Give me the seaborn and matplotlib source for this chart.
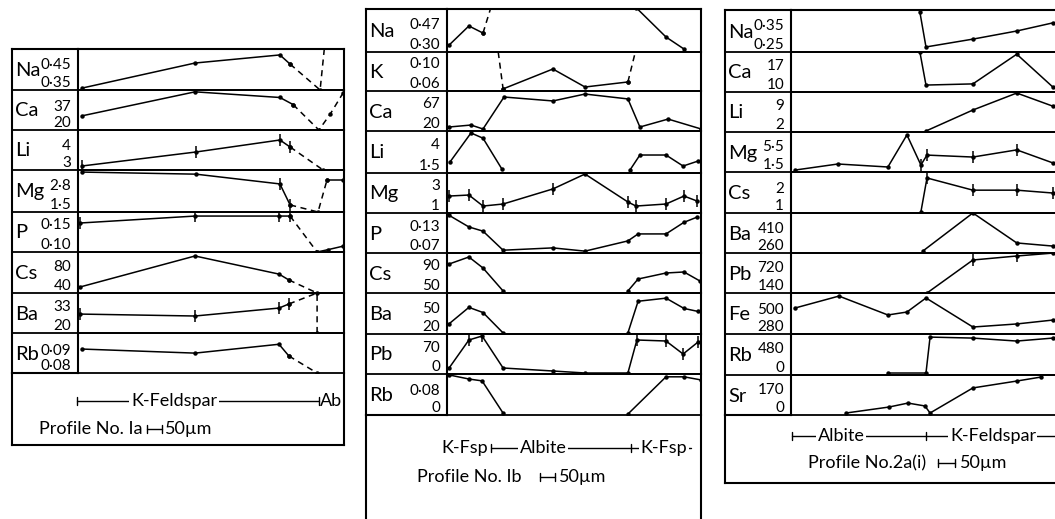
import matplotlib
matplotlib.use("Agg")
import matplotlib.pyplot as plt
import seaborn as sns

sns.set_style("white")
plt.rcParams["font.family"] = ["Lato", "DejaVu Sans"]
plt.rcParams["font.weight"] = "normal"

# ======================= DATA =======================
# x = distance along profile (um), y = concentration (per-strip scale)

# ---- Profile No. Ia ----
p1_elements = ["Na", "Ca", "Li", "Mg", "P", "Cs", "Ba", "Rb"]
p1_lo = [0.35, 20, 3, 1.5, 0.10, 40, 20, 0.08]
p1_hi = [0.45, 37, 4, 2.8, 0.15, 80, 33, 0.09]
p1_lo_lbl = ["0·35", "20", "3", "1·5", "0·10", "40", "20", "0·08"]
p1_hi_lbl = ["0·45", "37", "4", "2·8", "0·15", "80", "33", "0·09"]
p1_ytop = [0.502, 48.3, 4.6, 3.52, 0.169, 98.6, 38.6, 0.0967]

p1_na_x = [13, 390, 673, 707, 807, 830]
p1_na_y = [0.357, 0.45, 0.48, 0.446, 0.35, 0.60]
p1_ca_x = [13, 390, 673, 717, 803, 840, 883]
p1_ca_y = [30, 47, 43, 38, 20, 31, 46]
p1_li_x = [13, 393, 673, 707, 817]
p1_li_y = [3.16, 3.72, 4.2, 3.92, 3.0]
p1_mg_x = [13, 393, 673, 707, 800, 830, 883]
p1_mg_y = [3.42, 3.32, 2.85, 1.84, 1.5, 3.04, 3.04]
p1_p_x = [7, 390, 670, 707, 797, 833, 883]
p1_p_y = [0.15, 0.162, 0.162, 0.162, 0.10, 0.104, 0.11]
p1_cs_x = [7, 390, 670, 703, 797]
p1_cs_y = [48.6, 92.9, 67, 58.6, 40]
p1_ba_x = [7, 390, 670, 703, 797, 797]
p1_ba_y = [28.8, 27.9, 31.6, 33.5, 38.6, 20]
p1_rb_x = [13, 390, 670, 703, 797]
p1_rb_y = [0.09, 0.0883, 0.092, 0.0871, 0.08]

# ---- Profile No. Ib ----
p2_elements = ["Na", "K", "Ca", "Li", "Mg", "P", "Cs", "Ba", "Pb", "Rb"]
p2_lo = [0.30, 0.06, 20, 1.5, 1, 0.07, 50, 20, 0, 0]
p2_hi = [0.47, 0.10, 67, 4, 3, 0.13, 90, 50, 70, 0.08]
p2_lo_lbl = ["0·30", "0·06", "20", "1·5", "1", "0·07", "50", "20", "0", "0"]
p2_hi_lbl = ["0·47", "0·10", "67", "4", "3", "0·13", "90", "50", "70", "0·08"]
p2_ytop = [0.561, 0.1157, 87.1, 5.12, 3.76, 0.156, 105.2, 66.2, 100, 0.131]

p2_na_x = [7, 73, 120, 187, 630, 730, 790]
p2_na_y = [0.342, 0.458, 0.415, 0.81, 0.57, 0.391, 0.318]
p2_k_x = [120, 187, 353, 460, 603, 636]
p2_k_y = [0.28, 0.063, 0.0914, 0.0657, 0.0729, 0.13]
p2_ca_x = [7, 80, 120, 190, 353, 460, 603, 643, 737, 847]
p2_ca_y = [26.7, 30, 23.4, 77, 70.4, 82, 73.8, 26.7, 40, 23.4]
p2_li_x = [10, 80, 120, 183, 610, 643, 730, 787, 837]
p2_li_y = [2.45, 4.95, 4.5, 1.84, 1.76, 3.05, 3.05, 2.1, 2.53]
p2_mg_x = [7, 73, 120, 187, 353, 460, 603, 630, 730, 790, 833]
p2_mg_y = [2.17, 2.24, 1.48, 1.62, 2.66, 3.69, 1.76, 1.48, 1.62, 2.17, 1.83]
p2_p_x = [7, 73, 120, 187, 353, 460, 603, 637, 730, 790, 833]
p2_p_y = [0.151, 0.126, 0.117, 0.076, 0.081, 0.074, 0.096, 0.111, 0.111, 0.136, 0.147]
p2_cs_x = [7, 73, 120, 187, 603, 637, 730, 790, 843]
p2_cs_y = [90, 99.7, 84.5, 52.8, 52.8, 69.3, 77.6, 79, 66.6]
p2_ba_x = [7, 73, 120, 187, 603, 637, 730, 790, 837]
p2_ba_y = [31.5, 50, 44.2, 21.2, 21.2, 56.9, 60.4, 48.8, 45.4]
p2_pb_x = [7, 73, 117, 187, 353, 460, 603, 633, 730, 787, 837]
p2_pb_y = [15, 85, 95, 15, 7.5, 2.5, 2.5, 85, 82.5, 50, 80]
p2_rb_x = [7, 73, 117, 187, 603, 730, 790, 847]
p2_rb_y = [0.128, 0.115, 0.109, 0.006, 0.003, 0.122, 0.122, 0.112]

# ---- Profile No. 2a(i) ----
p3_elements = ["Na", "Ca", "Li", "Mg", "Cs", "Ba", "Pb", "Fe", "Rb", "Sr"]
p3_lo = [0.25, 10, 2, 1.5, 1, 260, 140, 280, 0, 0]
p3_hi = [0.35, 17, 9, 5.5, 2, 410, 720, 500, 480, 170]
p3_lo_lbl = ["0·25", "10", "2", "1·5", "1", "260", "140", "280", "0", "0"]
p3_hi_lbl = ["0·35", "17", "9", "5·5", "2", "410", "720", "500", "480", "170"]
p3_ytop = [0.40, 20.37, 12.37, 7.65, 2.58, 490.8, 1032, 627, 703, 261.5]

p3_na_x = [379, 397, 535, 664, 770]
p3_na_y = [0.393, 0.268, 0.296, 0.325, 0.354]
p3_ca_x = [379, 397, 535, 664, 770]
p3_ca_y = [20.4, 11.8, 12.1, 19.8, 11.3]
p3_li_x = [397, 535, 664, 770]
p3_li_y = [2.26, 7.7, 12.1, 8.7]
p3_mg_x = [12, 138, 285, 341, 382, 400, 535, 664, 770]
p3_mg_y = [1.8, 2.73, 2.27, 7.2, 2.58, 4.1, 3.8, 4.9, 2.9]
p3_cs_x = [382, 400, 535, 664, 770]
p3_cs_y = [1.04, 2.35, 1.88, 1.88, 1.77]
p3_ba_x = [388, 535, 664, 770]
p3_ba_y = [271.5, 491, 318, 300]
p3_pb_x = [400, 535, 664, 770]
p3_pb_y = [140, 876, 965, 1030]
p3_fe_x = [12, 141, 285, 341, 397, 535, 664, 770]
p3_fe_y = [500, 601, 441, 466, 585, 339, 365, 398]
p3_rb_x = [285, 397, 409, 535, 664, 770]
p3_rb_y = [34, 34, 650, 633, 582, 633]
p3_sr_x = [162, 288, 344, 394, 409, 535, 664, 735]
p3_sr_y = [13, 52, 78, 59, 13, 177, 222, 248]

# ======================= STYLE SPECS =======================
DASH = (0, (4, 3))
p1_segments = {
    "Na": [(0, 3, "-"), (3, 5, DASH)],
    "Ca": [(0, 3, "-"), (3, 6, DASH)],
    "Li": [(0, 3, "-"), (3, 4, DASH)],
    "Mg": [(0, 3, "-"), (3, 5, DASH), (5, 6, "-")],
    "P": [(0, 3, "-"), (3, 4, DASH), (4, 6, "-")],
    "Cs": [(0, 3, "-"), (3, 4, DASH)],
    "Ba": [(0, 3, "-"), (3, 5, DASH)],
    "Rb": [(0, 3, "-"), (3, 4, DASH)],
}
p1_errbars = {"Li": [0, 1, 2, 3], "Mg": [2, 3], "P": [0, 1, 2, 3], "Ba": [0, 1, 2, 3]}
p2_segments = {
    "Na": [(0, 2, "-"), (2, 3, DASH), (4, 6, "-")],
    "K": [(0, 1, DASH), (1, 4, "-"), (4, 5, DASH)],
    "Li": [(0, 3, "-"), (4, 8, "-")],
    "Cs": [(0, 3, "-"), (4, 8, "-")],
    "Ba": [(0, 3, "-"), (4, 8, "-")],
    "Rb": [(0, 3, "-"), (4, 7, "-")],
}
p2_errbars = {"Mg": [0, 1, 2, 3, 4, 6, 7, 8, 9, 10], "Pb": [1, 2, 7, 8, 9, 10]}
p3_segments = {}
p3_errbars = {"Mg": [4, 5, 6, 7], "Cs": [1, 2, 3, 4], "Pb": [1, 2]}

# ======================= LAYOUT (pixels) =======================
W, H = 1055, 519
PANELS = [
    dict(elements=p1_elements, lo=p1_lo, hi=p1_hi, lo_lbl=p1_lo_lbl, hi_lbl=p1_hi_lbl,
         ytop=p1_ytop,
         series=[(p1_na_x, p1_na_y), (p1_ca_x, p1_ca_y), (p1_li_x, p1_li_y), (p1_mg_x, p1_mg_y),
                 (p1_p_x, p1_p_y), (p1_cs_x, p1_cs_y), (p1_ba_x, p1_ba_y), (p1_rb_x, p1_rb_y)],
         segments=p1_segments, errbars=p1_errbars,
         box_left=12, label_right=78, right=344,
         bounds=[49, 90, 130, 170, 212, 252, 293, 333, 373], bottom=445, scale=10 / 3),
    dict(elements=p2_elements, lo=p2_lo, hi=p2_hi, lo_lbl=p2_lo_lbl, hi_lbl=p2_hi_lbl,
         ytop=p2_ytop,
         series=[(p2_na_x, p2_na_y), (p2_k_x, p2_k_y), (p2_ca_x, p2_ca_y), (p2_li_x, p2_li_y),
                 (p2_mg_x, p2_mg_y), (p2_p_x, p2_p_y), (p2_cs_x, p2_cs_y), (p2_ba_x, p2_ba_y),
                 (p2_pb_x, p2_pb_y), (p2_rb_x, p2_rb_y)],
         segments=p2_segments, errbars=p2_errbars,
         box_left=366, label_right=447, right=701,
         bounds=[9, 52, 91, 131, 173, 213, 253, 293, 334, 374, 415], bottom=535, scale=10 / 3),
    dict(elements=p3_elements, lo=p3_lo, hi=p3_hi, lo_lbl=p3_lo_lbl, hi_lbl=p3_hi_lbl,
         ytop=p3_ytop,
         series=[(p3_na_x, p3_na_y), (p3_ca_x, p3_ca_y), (p3_li_x, p3_li_y), (p3_mg_x, p3_mg_y),
                 (p3_cs_x, p3_cs_y), (p3_ba_x, p3_ba_y), (p3_pb_x, p3_pb_y), (p3_fe_x, p3_fe_y),
                 (p3_rb_x, p3_rb_y), (p3_sr_x, p3_sr_y)],
         segments=p3_segments, errbars=p3_errbars,
         box_left=725, label_right=791, right=1062,
         bounds=[10, 52, 92, 132, 172, 213, 253, 293, 334, 375, 415], bottom=483, scale=50 / 17),
]

INK = "#000000"
LW_BOX = 1.5
LW_LINE = 1.1


def rect(x0, y0, x1, y1):
    return [x0 / W, 1 - y1 / H, (x1 - x0) / W, (y1 - y0) / H]


def style_frame(ax, lw=LW_BOX):
    ax.set_facecolor("none")
    for s in ax.spines.values():
        s.set_color(INK)
        s.set_linewidth(lw)
    ax.set_xticks([])
    ax.set_yticks([])


fig = plt.figure(figsize=(W / 100, H / 100), dpi=100)
fig.patch.set_facecolor("white")

for P in PANELS:
    b = P["bounds"]
    s = P["scale"]
    xmax = (P["right"] - P["label_right"]) * s
    # --- label column ---
    lab = fig.add_axes(rect(P["box_left"], b[0], P["label_right"], b[-1]))
    style_frame(lab)
    lab.set_xlim(0, P["label_right"] - P["box_left"])
    lab.set_ylim(b[-1], b[0])
    for yb in b[1:-1]:
        lab.axhline(yb, color=INK, lw=1.3)
    for i, el in enumerate(P["elements"]):
        lab.text(3, (b[i] + b[i + 1]) / 2 + 1, el, fontsize=14.5, ha="left", va="center",
                 color=INK)

    # --- strips ---
    for i, el in enumerate(P["elements"]):
        ax = fig.add_axes(rect(P["label_right"], b[i], P["right"], b[i + 1]))
        xs, ys = P["series"][i]
        segs = P["segments"].get(el, [(0, len(xs) - 1, "-")])
        for i0, i1, ls in segs:
            sns.lineplot(x=xs[i0:i1 + 1], y=ys[i0:i1 + 1], ax=ax, sort=False,
                         estimator=None, color=INK, linewidth=LW_LINE, linestyle=ls,
                         marker="o", markersize=3.2, markeredgewidth=0)
        errs = P["errbars"].get(el, [])
        if errs:
            sns.lineplot(x=[xs[k] for k in errs], y=[ys[k] for k in errs], ax=ax,
                         sort=False, estimator=None, color=INK, linestyle="none",
                         marker="|", markersize=9, markeredgewidth=1.1,
                         markeredgecolor=INK)
        ax.set_xlim(0, xmax)
        ax.set_ylim(P["lo"][i], P["ytop"][i])
        ax.set(xlabel="", ylabel="")
        ax.set_facecolor("none")
        for sp in ax.spines.values():
            sp.set_color(INK)
            sp.set_linewidth(1.3)
        ax.spines["top"].set_linewidth(LW_BOX if i == 0 else 1.3)
        ax.spines["right"].set_linewidth(LW_BOX)
        ax.set_xticks([])
        ax.set_yticks([P["lo"][i], P["hi"][i]], labels=[P["lo_lbl"][i], P["hi_lbl"][i]])
        ax.tick_params(axis="y", direction="out", length=4, width=1, pad=1.0,
                       labelsize=11, colors=INK)
        ticks = ax.yaxis.get_major_ticks()
        ticks[0].tick1line.set_visible(False)
        ticks[0].label1.set_verticalalignment("bottom")

    # --- footer ---
    foot = fig.add_axes(rect(P["box_left"], b[-1], P["right"], P["bottom"]))
    style_frame(foot)
    foot.spines["top"].set_visible(False)
    foot.set_xlim(-(P["label_right"] - P["box_left"]) * s, xmax)
    foot.set_ylim(P["bottom"], b[-1])
    P["foot"] = foot

FS = 13


def range_bar(ax, y, x0, x1, ticks):
    ax.plot([x0, x1], [y, y], color=INK, lw=1.0)
    for t in ticks:
        ax.plot([t, t], [y - 4, y + 4], color=INK, lw=1.0)


def label_on(ax, x, y, txt, ha="center"):
    ax.text(x, y, txt, fontsize=FS, ha=ha, va="center", color=INK,
            bbox=dict(fc="white", ec="none", pad=1.0))


# Panel Ia footer
f = PANELS[0]["foot"]
range_bar(f, 401, -3, 803, [-3, 803])
label_on(f, 320, 401, "K-Feldspar")
f.text(806, 401, "Ab", fontsize=FS, ha="left", va="center", color=INK)
f.text(215, 429, "Profile No. Ia", fontsize=FS, ha="right", va="center", color=INK)
range_bar(f, 429, 230, 280, [230, 280])
f.text(290, 429, "50µm", fontsize=FS, ha="left", va="center", color=INK)

# Panel Ib footer
f = PANELS[1]["foot"]
range_bar(f, 448, 147, 813, [147, 613])
label_on(f, 320, 448, "Albite")
label_on(f, 723, 448, "K-Fsp")
f.text(137, 448, "K-Fsp", fontsize=FS, ha="right", va="center", color=INK)
f.text(247, 477, "Profile No. Ib", fontsize=FS, ha="right", va="center", color=INK)
range_bar(f, 477, 310, 360, [310, 360])
f.text(372, 477, "50µm", fontsize=FS, ha="left", va="center", color=INK)

# Panel 2a(i) footer
f = PANELS[2]["foot"]
range_bar(f, 436, 3, 800, [3, 397])
label_on(f, 147, 436, "Albite")
label_on(f, 594, 436, "K-Feldspar")
f.text(397, 463, "Profile No.2a(i)", fontsize=FS, ha="right", va="center", color=INK)
range_bar(f, 463, 432, 482, [432, 482])
f.text(497, 463, "50µm", fontsize=FS, ha="left", va="center", color=INK)

fig.savefig("out.png", dpi=100, facecolor="white")
